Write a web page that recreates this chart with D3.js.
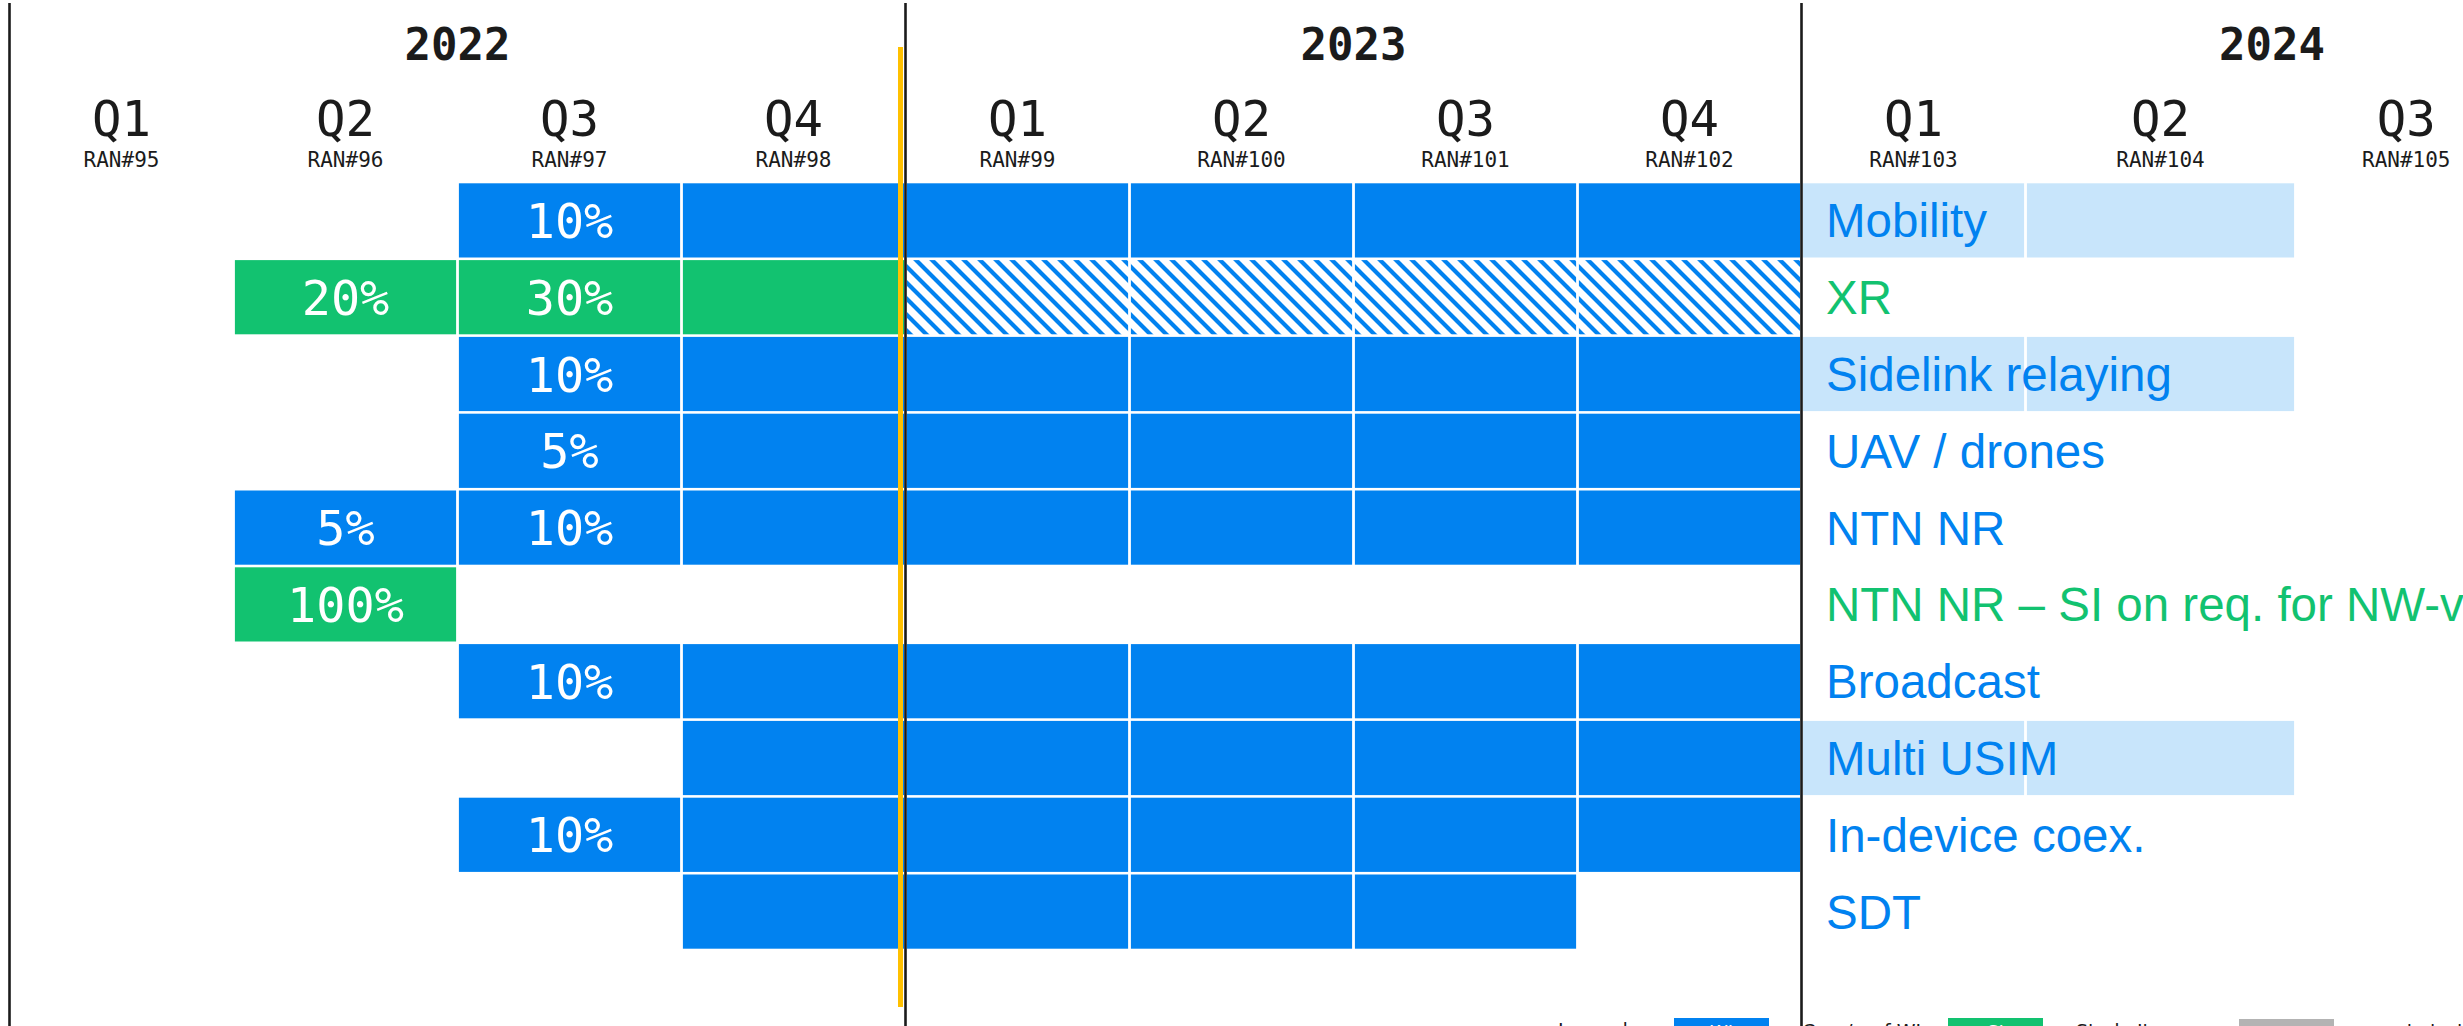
<!DOCTYPE html>
<html>
<head>
<meta charset="utf-8">
<script src="https://cdn.jsdelivr.net/npm/d3@7"></script>
<style>
  html, body { margin: 0; padding: 0; background: #fff; overflow: hidden; }
  svg { display: block; }
</style>
</head>
<body>
<svg id="chart" width="2463" height="1026"></svg>
<script>
// ---------------- DATA ----------------
const years = ["2022", "2023", "2024"];
const quarterLabels = ["Q1","Q2","Q3","Q4","Q1","Q2","Q3","Q4","Q1","Q2","Q3"];
const meetings = ["RAN#95","RAN#96","RAN#97","RAN#98","RAN#99","RAN#100","RAN#101","RAN#102","RAN#103","RAN#104","RAN#105"];
const tasks = ["Mobility","XR","Sidelink relaying","UAV / drones","NTN NR",
               "NTN NR – SI on req. for NW-verified UE location",
               "Broadcast","Multi USIM","In-device coex.","SDT"];
const taskType = ["WI","SI","WI","WI","WI","SI","WI","WI","WI","WI"];
// per quarter status: W = work item, S = study item, H = hatched (planned WI), L = light (tentative), . = none
const schedule = [
  "..WWWWWWLL.",
  ".SSSHHHH...",
  "..WWWWWWLL.",
  "..WWWWWW...",
  ".WWWWWWW...",
  ".S.........",
  "..WWWWWW...",
  "...WWWWWLL.",
  "..WWWWWW...",
  "...WWWW...."
];
const percentLabels = [
  {task: 0, q: 2, text: "10%"},
  {task: 1, q: 1, text: "20%"},
  {task: 1, q: 2, text: "30%"},
  {task: 2, q: 2, text: "10%"},
  {task: 3, q: 2, text: "5%"},
  {task: 4, q: 1, text: "5%"},
  {task: 4, q: 2, text: "10%"},
  {task: 5, q: 1, text: "100%"},
  {task: 6, q: 2, text: "10%"},
  {task: 8, q: 2, text: "10%"}
];
const legendBoxText = ["WI", "SI", ""];
const legendLabels = ["Core/perf WI", "Study Item", "not started"];
const currentQuarter = 4;   // "today" marker before Q1 2023

// ---------------- STYLE ----------------
const BLUE = "#0182f0", GREEN = "#12c270", LIGHT = "#c8e5fb", YELLOW = "#ffc000", GRAY = "#b3b3b3", INK = "#1b1b1b";
const MONO = "'DejaVu Sans Mono', monospace";
const SANS = "'Liberation Sans', Arial, sans-serif";

const svg = d3.select("#chart");

// quarter boundary scale (Q2 2024 column is wider in the original layout)
const x = d3.scaleLinear()
  .domain([0, 9, 10, 11, 12])
  .range([9.5, 2025.5, 2295.5, 2517, 2742.5]);

const y = d3.scaleBand()
  .domain(d3.range(tasks.length))
  .range([182, 950]);

// hatch pattern
const defs = svg.append("defs");
const pat = defs.append("pattern")
  .attr("id", "hatch").attr("patternUnits", "userSpaceOnUse")
  .attr("width", 16).attr("height", 16);
pat.append("rect").attr("width", 16).attr("height", 16).attr("fill", "#fff");
pat.append("path")
  .attr("d", "M0,0L16,16M-8,8L8,24M8,-8L24,8")
  .attr("stroke", BLUE).attr("stroke-width", 4.2);

const fillFor = {W: BLUE, S: GREEN, H: "url(#hatch)", L: LIGHT};

// cells
const cells = [];
schedule.forEach((s, t) => {
  s.split("").forEach((c, q) => { if (c !== ".") cells.push({t, q, c}); });
});
svg.append("g").selectAll("rect").data(cells).join("rect")
  .attr("x", d => x(d.q) + 1.4)
  .attr("y", d => y(d.t) + 1.3)
  .attr("width", d => x(d.q + 1) - x(d.q) - 2.8)
  .attr("height", y.bandwidth() - 2.6)
  .attr("fill", d => fillFor[d.c]);

// percent labels
svg.append("g").selectAll("text").data(percentLabels).join("text")
  .attr("x", d => (x(d.q) + x(d.q + 1)) / 2)
  .attr("y", d => y(d.task) + y.bandwidth() / 2 + 17.5)
  .attr("text-anchor", "middle")
  .attr("font-family", MONO).attr("font-size", 48.5)
  .attr("fill", "#fff")
  .text(d => d.text);

// task labels
svg.append("g").selectAll("text").data(tasks).join("text")
  .attr("x", x(8) + 24.5)
  .attr("y", (d, i) => y(i) + y.bandwidth() / 2 + 17)
  .attr("font-family", SANS).attr("font-size", 47.5)
  .attr("fill", (d, i) => taskType[i] === "SI" ? GREEN : BLUE)
  .text(d => d);

// header: years
svg.append("g").selectAll("text").data(years).join("text")
  .attr("x", (d, i) => (x(i * 4) + x(i * 4 + 4)) / 2)
  .attr("y", 60)
  .attr("text-anchor", "middle")
  .attr("font-family", MONO).attr("font-weight", "bold").attr("font-size", 44)
  .attr("fill", INK)
  .text(d => d);

// header: quarters
svg.append("g").selectAll("text").data(quarterLabels).join("text")
  .attr("x", (d, i) => (x(i) + x(i + 1)) / 2)
  .attr("y", 136)
  .attr("text-anchor", "middle")
  .attr("font-family", MONO).attr("font-size", 49)
  .attr("fill", INK)
  .text(d => d);

svg.append("g").selectAll("text").data(meetings).join("text")
  .attr("x", (d, i) => (x(i) + x(i + 1)) / 2)
  .attr("y", 167)
  .attr("text-anchor", "middle")
  .attr("font-family", MONO).attr("font-size", 21)
  .attr("fill", INK)
  .text(d => d);

// year separator lines
svg.append("g").selectAll("line").data(years).join("line")
  .attr("x1", (d, i) => x(i * 4)).attr("x2", (d, i) => x(i * 4))
  .attr("y1", 3).attr("y2", 1026)
  .attr("stroke", INK).attr("stroke-width", 2.6);

// current-time marker
svg.append("line")
  .attr("x1", x(currentQuarter) - 5).attr("x2", x(currentQuarter) - 5)
  .attr("y1", 47).attr("y2", 1007)
  .attr("stroke", YELLOW).attr("stroke-width", 5);

// legend (mostly cut off at bottom edge)
const legendX = [1674, 1948, 2239];
const legendFill = [BLUE, GREEN, GRAY];
const lg = svg.append("g");
lg.append("text").attr("x", 1558).attr("y", 1037)
  .attr("font-family", "'DejaVu Sans', sans-serif").attr("font-size", 19)
  .attr("fill", INK).text("Legend:");
legendLabels.forEach((lab, i) => {
  lg.append("rect").attr("x", legendX[i]).attr("y", i === 2 ? 1019 : 1018)
    .attr("width", 95).attr("height", 30).attr("fill", legendFill[i]);
  lg.append("text").attr("x", legendX[i] + 47.5).attr("y", 1038)
    .attr("text-anchor", "middle")
    .attr("font-family", "'DejaVu Sans', sans-serif").attr("font-size", 18)
    .attr("fill", "#fff").text(legendBoxText[i]);
  lg.append("text").attr("x", legendX[i] + (i === 2 ? 144 : 128)).attr("y", 1038)
    .attr("font-family", "'DejaVu Sans', sans-serif").attr("font-size", 19)
    .attr("fill", INK).text(lab);
});
</script>
</body>
</html>
